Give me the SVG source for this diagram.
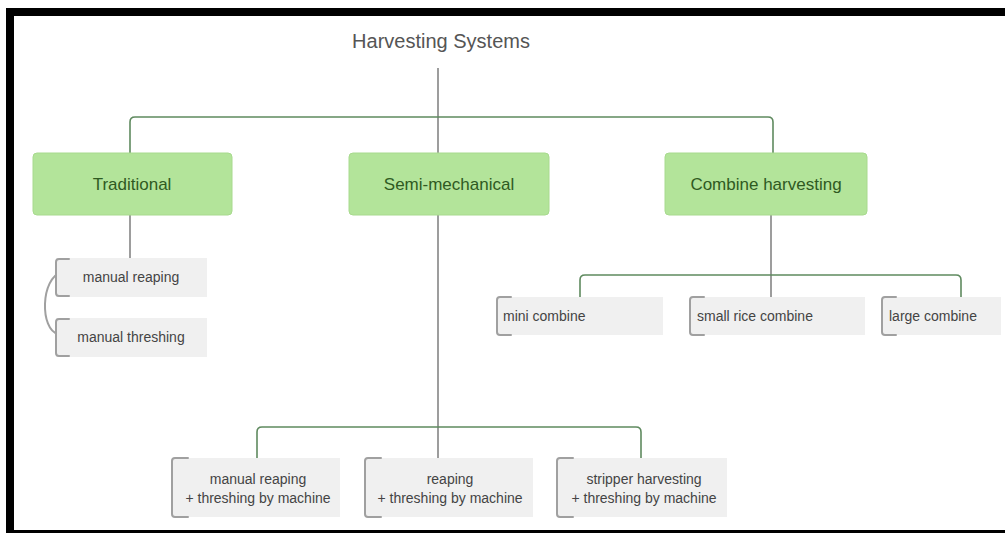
<svg xmlns="http://www.w3.org/2000/svg" width="1005" height="533" viewBox="0 0 1005 533">
<style>
.main{fill:#b3e49a;stroke:#a8da8e;stroke-width:1}
.mainT{font-family:"Liberation Sans",Arial,sans-serif;font-size:17px;fill:#2f5a22;text-anchor:middle}
.sub{fill:#f0f0f0}
.subT{font-family:"Liberation Sans",Arial,sans-serif;font-size:14px;fill:#444}
.brk{fill:none;stroke:#a0a0a0;stroke-width:2;stroke-linecap:round}
.trunk{fill:none;stroke:#858585;stroke-width:1.6}
.bar{fill:none;stroke:#5f8a5f;stroke-width:1.6}
</style>
<rect x="0" y="0" width="1005" height="533" fill="#ffffff"/>
<rect x="6" y="8" width="999" height="8" fill="#000"/>
<rect x="6" y="8" width="8" height="525" fill="#000"/>
<rect x="6" y="530" width="999" height="3" fill="#000"/>

<g id="connectors">
<line class="trunk" x1="438" y1="68" x2="438" y2="153"/>
<path class="bar" d="M130,153 V122 Q130,117 135,117 H768 Q773,117 773,122 V153"/>
<line class="trunk" x1="130" y1="215" x2="130" y2="258"/>
<path class="brk" d="M62,272 C40,278 40,330 58,334" stroke-width="1.6"/>
<line class="trunk" x1="771" y1="215" x2="771" y2="297"/>
<path class="bar" d="M580,297 V280 Q580,275 585,275 H956 Q961,275 961,280 V297"/>
<line class="trunk" x1="438" y1="215" x2="438" y2="458"/>
<path class="bar" d="M257,458 V432 Q257,427 262,427 H636 Q641,427 641,432 V458"/>
</g>

<g id="title">
<text x="441" y="48" font-family="'Liberation Sans',Arial,sans-serif" font-size="20" fill="#555" text-anchor="middle">Harvesting Systems</text>
</g>

<g id="traditional">
<rect class="main" x="33" y="153" width="199" height="62" rx="4"/>
<text class="mainT" x="132" y="190">Traditional</text>
</g>
<g id="semi-mechanical">
<rect class="main" x="349" y="153" width="200" height="62" rx="4"/>
<text class="mainT" x="449" y="190">Semi-mechanical</text>
</g>
<g id="combine-harvesting">
<rect class="main" x="665" y="153" width="202" height="62" rx="4"/>
<text class="mainT" x="766" y="190">Combine harvesting</text>
</g>

<g id="manual-reaping">
<rect class="sub" x="56" y="258" width="151" height="39"/>
<path class="brk" d="M69,259 H59 Q56,259 56,262 V293 Q56,296 59,296 H69"/>
<text class="subT" x="131" y="282" text-anchor="middle">manual reaping</text>
</g>
<g id="manual-threshing">
<rect class="sub" x="56" y="318" width="151" height="39"/>
<path class="brk" d="M69,319 H59 Q56,319 56,322 V353 Q56,356 59,356 H69"/>
<text class="subT" x="131" y="342" text-anchor="middle">manual threshing</text>
</g>

<g id="mini-combine">
<rect class="sub" x="497" y="297" width="166" height="38"/>
<path class="brk" d="M511,297 H500 Q497,297 497,300 V332 Q497,335 500,335 H511"/>
<text class="subT" x="503" y="321">mini combine</text>
</g>
<g id="small-rice-combine">
<rect class="sub" x="690" y="297" width="175" height="38"/>
<path class="brk" d="M704,297 H693 Q690,297 690,300 V332 Q690,335 693,335 H704"/>
<text class="subT" x="697" y="321">small rice combine</text>
</g>
<g id="large-combine">
<rect class="sub" x="882" y="297" width="119" height="38"/>
<path class="brk" d="M896,297 H885 Q882,297 882,300 V332 Q882,335 885,335 H896"/>
<text class="subT" x="889" y="321">large combine</text>
</g>

<g id="manual-reaping-machine">
<rect class="sub" x="172" y="458" width="168" height="59"/>
<path class="brk" d="M188,458 H175 Q172,458 172,461 V514 Q172,517 175,517 H188"/>
<text class="subT" x="258" y="484" text-anchor="middle">manual reaping</text>
<text class="subT" x="258" y="503" text-anchor="middle">+ threshing by machine</text>
</g>
<g id="reaping-machine">
<rect class="sub" x="365" y="458" width="168" height="59"/>
<path class="brk" d="M381,458 H368 Q365,458 365,461 V514 Q365,517 368,517 H381"/>
<text class="subT" x="450" y="484" text-anchor="middle">reaping</text>
<text class="subT" x="450" y="503" text-anchor="middle">+ threshing by machine</text>
</g>
<g id="stripper-machine">
<rect class="sub" x="557" y="458" width="170" height="59"/>
<path class="brk" d="M573,458 H560 Q557,458 557,461 V514 Q557,517 560,517 H573"/>
<text class="subT" x="644" y="484" text-anchor="middle">stripper harvesting</text>
<text class="subT" x="644" y="503" text-anchor="middle">+ threshing by machine</text>
</g>
</svg>
